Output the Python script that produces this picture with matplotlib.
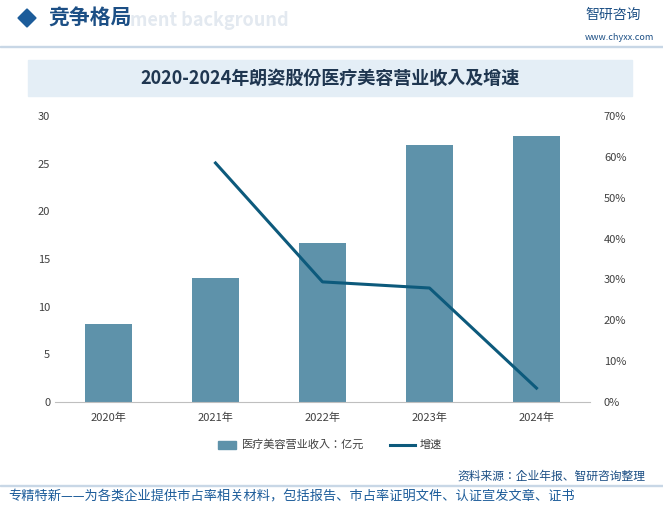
import matplotlib
matplotlib.use("Agg")
import matplotlib.pyplot as plt
from matplotlib import font_manager
from matplotlib.patches import Rectangle, Polygon
from matplotlib.ticker import FuncFormatter

names = sorted({f.name for f in font_manager.fontManager.ttflist if "CJK" in f.name or "CJK" in f.fname})
cjk = [n for n in names if "SC" in n] + names
plt.rcParams["font.family"] = "sans-serif"
plt.rcParams["font.sans-serif"] = cjk + ["DejaVu Sans"]

years = ["2020年", "2021年", "2022年", "2023年", "2024年"]
revenue = [8.2, 13.0, 16.7, 27.0, 27.9]
growth_years = ["2021年", "2022年", "2023年", "2024年"]
growth = [58.5, 29.4, 27.9, 3.4]

W, H = 663, 508
fig = plt.figure(figsize=(W/100, H/100), dpi=100)
fig.patch.set_facecolor("white")

def fx(x): return x / W
def fy(y): return 1 - y / H

fig.patches.append(Polygon([[fx(18), fy(18)], [fx(27), fy(9)], [fx(36), fy(18)], [fx(27), fy(27)]],
                           closed=True, transform=fig.transFigure, color="#1c5c9a"))
fig.text(fx(48), fy(18), "竞争格局", fontsize=15, color="#1c4f85", va="center", weight="bold")
fig.text(fx(130), fy(20), "ment background", fontsize=13, color="#e3e9f0", va="center", weight="bold")
fig.text(fx(585), fy(15), "智研咨询", fontsize=10, color="#1c4f85", va="center")
fig.text(fx(585), fy(37), "www.chyxx.com", fontsize=6.5, color="#1c4f85", va="center")
fig.patches.append(Rectangle((fx(0), fy(47)), 1, 1.5/H, transform=fig.transFigure, color="#c8d7e6"))

fig.patches.append(Rectangle((fx(28), fy(96)), fx(604), 36/H, transform=fig.transFigure, color="#e4eef6"))
fig.text(fx(330), fy(78), "2020-2024年朗姿股份医疗美容营业收入及增速", fontsize=13, color="#1f3650",
         ha="center", va="center", weight="bold")

ax = fig.add_axes([fx(55), fy(402), fx(535), (402-116)/H])
x = range(len(years))
ax.bar(x, revenue, width=0.43, color="#5e92aa")
ax.set_ylim(0, 30)
ax.set_yticks(range(0, 31, 5))
ax.set_xlim(-0.5, 4.5)
ax.set_xticks(list(x))
ax.set_xticklabels(years)
for s in ["top", "right", "left"]:
    ax.spines[s].set_visible(False)
ax.spines["bottom"].set_color("#bfbfbf")
ax.tick_params(axis="both", length=0, labelsize=8, colors="#404040")
ax.tick_params(axis="x", pad=8)

ax2 = ax.twinx()
gx = [years.index(g) for g in growth_years]
ax2.plot(gx, growth, color="#0d5a7c", lw=2.2)
ax2.set_ylim(0, 70)
ax2.set_yticks(range(0, 71, 10))
ax2.yaxis.set_major_formatter(FuncFormatter(lambda v, p: f"{int(v)}%"))
for s in ["top", "right", "left", "bottom"]:
    ax2.spines[s].set_visible(False)
ax2.tick_params(axis="y", length=0, labelsize=8, colors="#404040", pad=10)

fig.patches.append(Rectangle((fx(218), fy(449)), 18/W, 8/H, transform=fig.transFigure, color="#5e92aa"))
fig.text(fx(242), fy(445), "医疗美容营业收入：亿元", fontsize=8, va="center", color="#404040")
fig.lines.append(plt.Line2D([fx(390), fx(415)], [fy(445), fy(445)], transform=fig.transFigure, color="#0d5a7c", lw=2.2))
fig.text(fx(420), fy(445), "增速", fontsize=8, va="center", color="#404040")

fig.text(fx(645), fy(476), "资料来源：企业年报、智研咨询整理", fontsize=8.5, ha="right", va="center", color="#1c4f85")
fig.patches.append(Rectangle((fx(0), fy(486)), 1, 1/H, transform=fig.transFigure, color="#c8d7e6"))
fig.text(fx(8), fy(497), "专精特新——为各类企业提供市占率相关材料，包括报告、市占率证明文件、认证宣发文章、证书",
         fontsize=9.5, va="center", color="#1c5c9a")

fig.savefig("out.png", dpi=100)
